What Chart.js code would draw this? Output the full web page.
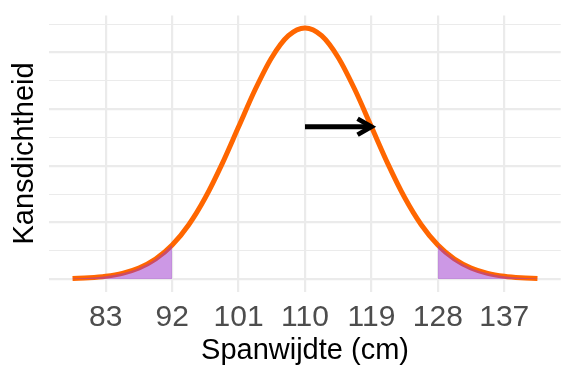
<!DOCTYPE html>
<html>
<head>
<meta charset="utf-8">
<script src="https://cdn.jsdelivr.net/npm/chart.js@4/dist/chart.umd.min.js"></script>
<style>
  html, body { margin: 0; padding: 0; background: #ffffff; }
  #wrap { width: 576px; height: 384px; }
</style>
</head>
<body>
<div id="wrap"><canvas id="c" width="576" height="384"></canvas></div>
<script>
// Spanwijdte (cm) values along the curve
const spanX = [78.5, 80.75, 83, 85.25, 87.5, 89.75, 92, 94.25, 96.5, 98.75, 101, 103.25, 105.5, 107.75, 110,
  112.25, 114.5, 116.75, 119, 121.25, 123.5, 125.75, 128, 130.25, 132.5, 134.75, 137, 139.25, 141.5];
// Kansdichtheid
const density = [0.000097, 0.000225, 0.000492, 0.001010, 0.001948, 0.003527, 0.005999, 0.009586, 0.014391,
  0.020294, 0.026886, 0.033460, 0.039118, 0.042963, 0.044327, 0.042963, 0.039118, 0.033460, 0.026886,
  0.020294, 0.014391, 0.009586, 0.005999, 0.003527, 0.001948, 0.001010, 0.000492, 0.000225, 0.000097];
// shaded tails
const shadeLow = 92;
const shadeHigh = 128;
// arrow from mean to mean + 1 sd, at density of mean + 1 sd
const arrowX = [110, 119];
const arrowY = [0.026886, 0.026886];
// tick labels
const xTicks = [83, 92, 101, 110, 119, 128, 137];
const yGrid = [0, 0.005, 0.01, 0.015, 0.02, 0.025, 0.03, 0.035, 0.04, 0.045];

const curvePts = spanX.map((x, i) => ({ x: x, y: density[i] }));
const leftTail = curvePts.filter(p => p.x <= shadeLow);
const rightTail = curvePts.filter(p => p.x >= shadeHigh);
const arrowPts = arrowX.map((x, i) => ({ x: x, y: arrowY[i] }));

const FONT = '"Liberation Sans", Arial, Helvetica, sans-serif';

const arrowHead = {
  id: 'arrowHead',
  afterDatasetsDraw(chart) {
    const meta = chart.getDatasetMeta(3);
    if (!meta || !meta.data.length) return;
    const a = meta.data[meta.data.length - 2];
    const b = meta.data[meta.data.length - 1];
    const ang = Math.atan2(b.y - a.y, b.x - a.x);
    const len = 16, spread = Math.PI / 6;
    const ctx = chart.ctx;
    ctx.save();
    ctx.strokeStyle = '#000000';
    ctx.lineWidth = 4.8;
    ctx.lineJoin = 'miter';
    ctx.lineCap = 'butt';
    ctx.beginPath();
    ctx.moveTo(b.x - len * Math.cos(ang - spread), b.y - len * Math.sin(ang - spread));
    ctx.lineTo(b.x, b.y);
    ctx.lineTo(b.x - len * Math.cos(ang + spread), b.y - len * Math.sin(ang + spread));
    ctx.stroke();
    ctx.restore();
  }
};

new Chart(document.getElementById('c'), {
  type: 'line',
  data: {
    datasets: [
      {
        data: curvePts, borderColor: '#FF6600', borderWidth: 5, borderCapStyle: 'butt',
        pointRadius: 0, fill: false, cubicInterpolationMode: 'monotone', order: 3
      },
      {
        data: leftTail, borderWidth: 0, pointRadius: 0, fill: 'origin',
        backgroundColor: 'rgba(153,50,204,0.5)', borderColor: 'rgba(0,0,0,0)',
        cubicInterpolationMode: 'monotone', order: 2
      },
      {
        data: rightTail, borderWidth: 0, pointRadius: 0, fill: 'origin',
        backgroundColor: 'rgba(153,50,204,0.5)', borderColor: 'rgba(0,0,0,0)',
        cubicInterpolationMode: 'monotone', order: 2
      },
      {
        data: arrowPts, borderColor: '#000000', borderWidth: 4.8, borderCapStyle: 'butt',
        pointRadius: 0, fill: false, order: 1
      }
    ]
  },
  options: {
    responsive: false,
    animation: false,
    events: [],
    layout: { padding: { top: 15.4, right: 15.3, left: 0, bottom: 0 } },
    plugins: { legend: { display: false }, tooltip: { enabled: false } },
    scales: {
      x: {
        type: 'linear',
        min: 75.35, max: 144.65,
        afterBuildTicks: (s) => { s.ticks = xTicks.map(v => ({ value: v })); },
        afterFit: (s) => { s.height = 92.4; },
        border: { display: false },
        grid: { color: '#EBEBEB', lineWidth: 2.2, drawTicks: false },
        ticks: { color: '#4D4D4D', padding: 8, font: { family: FONT, size: 30 }, maxRotation: 0, autoSkip: false,
                 callback: (v) => String(v) },
        title: { display: true, text: 'Spanwijdte (cm)', color: '#000000',
                 font: { family: FONT, size: 29 }, padding: { top: 0, bottom: 16 } }
      },
      y: {
        type: 'linear',
        min: -0.00222, max: 0.04655,
        afterBuildTicks: (s) => { s.ticks = yGrid.map(v => ({ value: v })); },
        afterFit: (s) => { s.width = 49.3; },
        border: { display: false },
        grid: {
          color: '#EBEBEB', drawTicks: false,
          lineWidth: (ctx) => (ctx.tick && Math.abs(Math.round(ctx.tick.value * 100) - ctx.tick.value * 100) < 1e-6) ? 2.2 : 1.1
        },
        ticks: { display: false },
        title: { display: true, text: 'Kansdichtheid', color: '#000000',
                 font: { family: FONT, size: 29 }, padding: { top: 8, bottom: 0 } }
      }
    }
  },
  plugins: [arrowHead]
});
</script>
</body>
</html>
